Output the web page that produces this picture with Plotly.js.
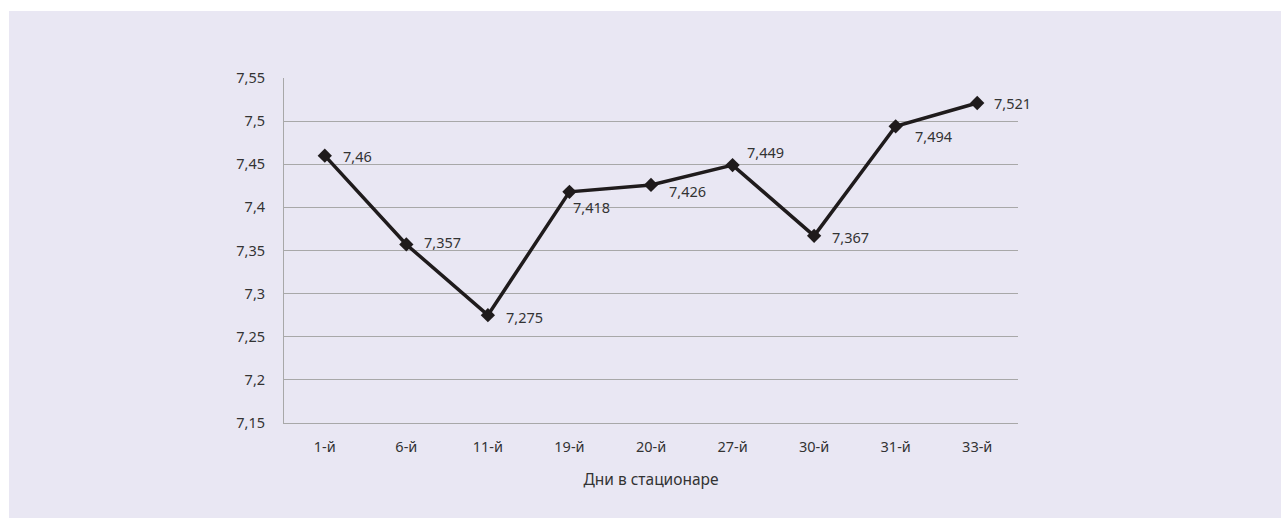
<!DOCTYPE html>
<html>
<head>
<meta charset="utf-8">
<script src="https://cdn.plot.ly/plotly-3.0.1.min.js"></script>
<style>
html,body{margin:0;padding:0;background:#ffffff;width:1281px;height:518px;overflow:hidden;}
#chart{position:absolute;left:9px;top:11px;width:1272px;height:507px;}
</style>
</head>
<body>
<div id="chart"></div>
<script>
const categories = ["1-й","6-й","11-й","19-й","20-й","27-й","30-й","31-й","33-й"];
const values = [7.46, 7.357, 7.275, 7.418, 7.426, 7.449, 7.367, 7.494, 7.521];
const valueLabels = ["7,46","7,357","7,275","7,418","7,426","7,449","7,367","7,494","7,521"];
const yTickValues = [7.15,7.2,7.25,7.3,7.35,7.4,7.45,7.5,7.55];
const yTickLabels = ["7,15","7,2","7,25","7,3","7,35","7,4","7,45","7,5","7,55"];
const xAxisTitle = "Дни в стационаре";

// label offsets (style only)
const labelDx = [16,16,16,2,16,12,16,17,15];
const labelDy = [0,2,-2,-15,-6,13,-1,-10,0];

const font = "Noto Sans, Open Sans, sans-serif";
const fsize = 14.5;
const textColor = "#333333";
const gridColor = "#a8a8a8";

const annotations = categories.map((c,i)=>({
  x: c, y: values[i], xref:"x", yref:"y",
  text: valueLabels[i], showarrow:false,
  xanchor:"left", yanchor:"middle",
  xshift: labelDx[i], yshift: labelDy[i],
  font:{family:font,size:fsize,color:textColor}
}));

const trace = {
  x: categories, y: values, type:"scatter", mode:"lines+markers",
  line:{color:"#1f1b1c", width:3.5},
  marker:{symbol:"diamond", size:11, color:"#1f1b1c"},
  hoverinfo:"skip"
};

const layout = {
  paper_bgcolor:"#e9e7f3",
  plot_bgcolor:"#e9e7f3",
  margin:{l:275, r:263, t:66.5, b:95},
  showlegend:false,
  font:{family:font,size:fsize,color:textColor},
  xaxis:{
    type:"category",
    range:[-0.5, 8.5],
    showgrid:false,
    showline:true, linecolor:gridColor, linewidth:1,
    ticks:"", ticklabelstandoff:11,
    tickfont:{family:font,size:fsize,color:textColor},
    title:{text:xAxisTitle, standoff:18, font:{family:font,size:15.5,color:textColor}},
    zeroline:false, fixedrange:true
  },
  yaxis:{
    range:[7.15,7.55],
    tickvals:yTickValues, ticktext:yTickLabels,
    showgrid:true, gridcolor:gridColor, gridwidth:1,
    showline:true, linecolor:gridColor, linewidth:1,
    ticks:"", ticklabelstandoff:15,
    tickfont:{family:font,size:fsize,color:textColor},
    zeroline:false, fixedrange:true
  },
  annotations: annotations
};

Plotly.newPlot("chart",[trace],layout,{displayModeBar:false,staticPlot:true});
</script>
</body>
</html>
